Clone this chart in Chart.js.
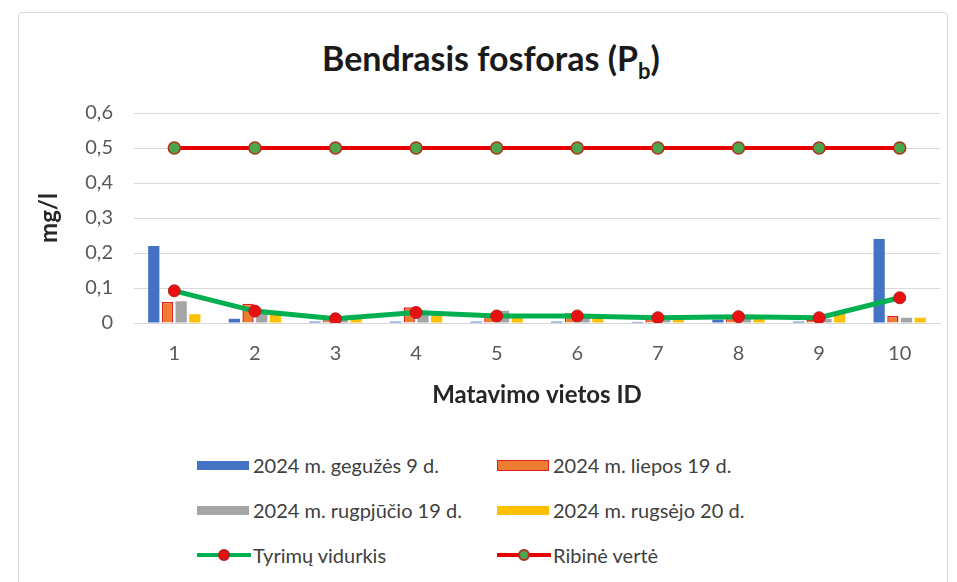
<!DOCTYPE html>
<html>
<head>
<meta charset="utf-8">
<script src="https://cdn.jsdelivr.net/npm/chart.js@4"></script>
<style>
  html, body { margin: 0; padding: 0; background: #fff; }
  #wrap { position: relative; width: 957px; height: 582px; overflow: hidden; font-family: Lato, 'Noto Sans', sans-serif; }
  #frame { position: absolute; left: 18px; top: 12px; width: 928px; height: 580px; border: 1px solid #D9D9D9; border-radius: 4px; }
  #chartBox { position: absolute; left: 0; top: 0; width: 957px; height: 420px; }
  #title { position: absolute; left: 0; top: 36px; width: 982px; text-align: center; font-size: 34px; line-height: 44px; font-weight: bold; color: #1a1a1a; }
  #title sub { font-size: 22px; line-height: 0; }
  .leg { position: absolute; font-size: 20px; line-height: 24px; color: #404040; white-space: nowrap; display: flex; align-items: center; }
  .sw { width: 52px; height: 9px; margin-right: 4px; box-sizing: border-box; }
  .ln { position: relative; width: 54px; height: 20px; margin-right: 2px; }
  .ln .bar { position: absolute; left: 0; right: 0; top: 8px; height: 4px; }
  .ln .dot { position: absolute; left: 21px; top: 4px; width: 12px; height: 12px; border-radius: 50%; box-sizing: border-box; border: 2px solid; }
</style>
</head>
<body>
<div id="wrap">
  <div id="frame"></div>
  <div id="title">Bendrasis fosforas (P<sub>b</sub>)</div>
  <div id="chartBox"><canvas id="fosforasChart"></canvas></div>
  <div id="legend"></div>
</div>
<script>
// Duomenys
const vietos = ['1', '2', '3', '4', '5', '6', '7', '8', '9', '10'];
const geguzes = [0.22, 0.012, 0.004, 0.004, 0.004, 0.004, 0.003, 0.01, 0.004, 0.24];
const liepos = [0.06, 0.055, 0.008, 0.045, 0.02, 0.028, 0.02, 0.015, 0.01, 0.02];
const rugpjucio = [0.062, 0.03, 0.01, 0.035, 0.035, 0.02, 0.02, 0.02, 0.012, 0.015];
const rugsejo = [0.025, 0.025, 0.015, 0.022, 0.015, 0.015, 0.012, 0.012, 0.03, 0.015];
const vidurkis = [0.092, 0.034, 0.012, 0.03, 0.02, 0.02, 0.015, 0.018, 0.015, 0.072];
const ribine = [0.5, 0.5, 0.5, 0.5, 0.5, 0.5, 0.5, 0.5, 0.5, 0.5];
const yTickLabels = ['0', '0,1', '0,2', '0,3', '0,4', '0,5', '0,6'];

const fontFamily = "Lato, 'Noto Sans', sans-serif";

const datasets = [
    { type: 'bar', label: '2024 m. gegužės 9 d.', data: geguzes, backgroundColor: '#4472C4', order: 2 },
    { type: 'bar', label: '2024 m. liepos 19 d.', data: liepos, backgroundColor: '#ED7D31', borderColor: '#E02020', borderWidth: 1.5, order: 2 },
    { type: 'bar', label: '2024 m. rugpjūčio 19 d.', data: rugpjucio, backgroundColor: '#A5A5A5', order: 2 },
    { type: 'bar', label: '2024 m. rugsėjo 20 d.', data: rugsejo, backgroundColor: '#FFC000', order: 2 },
    {
        type: 'line', label: 'Tyrimų vidurkis', data: vidurkis,
        borderColor: '#00B050', borderWidth: 5, tension: 0,
        pointRadius: 6, pointBackgroundColor: '#E81010', pointBorderColor: '#B02020', pointBorderWidth: 1,
        order: 1
    },
    {
        type: 'line', label: 'Ribinė vertė', data: ribine,
        borderColor: '#E60000', borderWidth: 4, tension: 0,
        pointRadius: 6, pointBackgroundColor: '#4CA64C', pointBorderColor: '#B03020', pointBorderWidth: 1.5,
        order: 0
    }
];

new Chart(document.getElementById('fosforasChart'), {
    type: 'bar',
    data: { labels: vietos, datasets: datasets },
    options: {
        responsive: true,
        maintainAspectRatio: false,
        animation: false,
        datasets: { bar: { categoryPercentage: 0.68, barPercentage: 0.82 } },
        layout: { padding: { top: 113, right: 17, left: 0, bottom: 0 } },
        plugins: {
            legend: { display: false },
            title: { display: false },
            tooltip: { enabled: false }
        },
        scales: {
            x: {
                grid: { display: false, drawTicks: false },
                border: { display: true, color: '#D9D9D9' },
                ticks: { color: '#595959', font: { family: fontFamily, size: 20 }, padding: 19 },
                title: {
                    display: true, text: 'Matavimo vietos ID', color: '#262626',
                    font: { family: fontFamily, size: 24, weight: 'bold' },
                    padding: { top: 4, bottom: 10 }
                },
                afterFit: (scale) => { scale.height = 97; }
            },
            y: {
                min: 0, max: 0.6,
                grid: { color: '#D9D9D9', drawTicks: false },
                border: { display: false },
                ticks: {
                    stepSize: 0.1, padding: 21, color: '#595959',
                    font: { family: fontFamily, size: 20 },
                    callback: (value, index) => yTickLabels[index]
                },
                title: {
                    display: true, text: 'mg/l', color: '#262626',
                    font: { family: fontFamily, size: 24, weight: 'bold' },
                    padding: { top: 35, bottom: 0 }
                },
                afterFit: (scale) => { scale.width = 134; }
            }
        }
    }
});

// Legenda (2 stulpeliai)
const legendPos = [
    { left: 197, top: 453 }, { left: 497, top: 453 },
    { left: 197, top: 498 }, { left: 497, top: 498 },
    { left: 197, top: 543 }, { left: 497, top: 543 }
];
const legendEl = document.getElementById('legend');
datasets.forEach((ds, i) => {
    const item = document.createElement('div');
    item.className = 'leg';
    item.style.left = legendPos[i].left + 'px';
    item.style.top = legendPos[i].top + 'px';
    let swatch;
    if (ds.type === 'bar') {
        swatch = `<div class="sw" style="background:${ds.backgroundColor};${ds.borderWidth ? 'border:1.5px solid ' + ds.borderColor + ';height:11px;' : ''}"></div>`;
    } else {
        swatch = `<div class="ln"><div class="bar" style="background:${ds.borderColor}"></div>` +
                 `<div class="dot" style="background:${ds.pointBackgroundColor};border-color:${ds.pointBorderColor}"></div></div>`;
    }
    item.innerHTML = swatch + '<span>' + ds.label + '</span>';
    legendEl.appendChild(item);
});
</script>
</body>
</html>
